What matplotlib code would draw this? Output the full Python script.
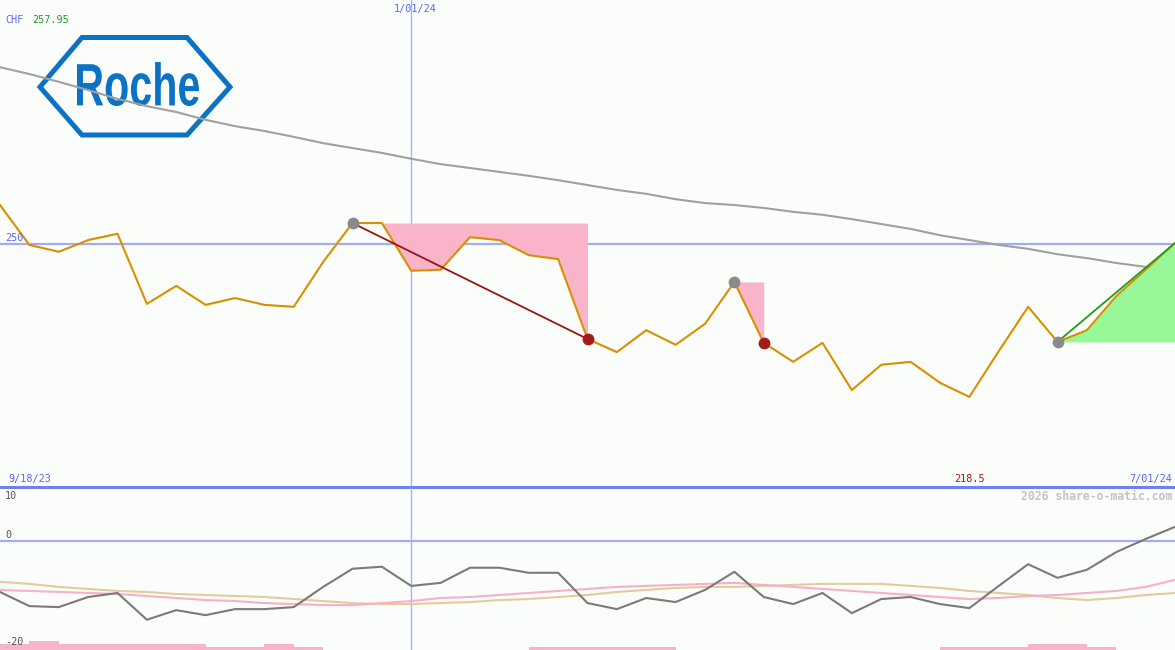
import numpy as np
import matplotlib
matplotlib.use("Agg")
import matplotlib.pyplot as plt
from matplotlib.patches import Polygon, PathPatch
from matplotlib.textpath import TextPath
from matplotlib.transforms import Affine2D
from matplotlib.font_manager import FontProperties

# weekly closes in CHF, 9/18/23 .. 7/01/24
price = [257.9, 249.7, 248.3, 250.7, 252.0, 237.6, 241.3, 237.4, 238.8, 237.4,
         237.0, 246.2, 254.2, 254.2, 244.4, 244.6, 251.3, 250.7, 247.6, 246.8,
         230.4, 227.7, 232.2, 229.2, 233.5, 242.1, 229.6, 225.7, 229.6, 219.9,
         225.1, 225.7, 221.4, 218.5, 227.9, 237.0, 229.8, 232.2, 239.2, 244.6,
         250.1]

# long moving average
ma_long = [286.2, 284.8, 283.2, 281.5, 279.7, 278.2, 277.0, 275.4, 274.1, 273.1,
           271.9, 270.6, 269.6, 268.6, 267.4, 266.3, 265.5, 264.7, 263.9, 263.0,
           262.0, 261.0, 260.2, 259.1, 258.3, 257.9, 257.3, 256.5, 255.9, 255.0,
           254.0, 253.0, 251.7, 250.7, 249.7, 248.9, 247.8, 247.0, 246.0, 245.2,
           244.6]

# lower panel indicator lines
momentum = [-10.1, -12.9, -13.1, -11.1, -10.3, -15.6, -13.7, -14.7, -13.5, -13.5,
            -13.1, -9.1, -5.5, -5.1, -8.9, -8.3, -5.3, -5.3, -6.3, -6.3,
            -12.3, -13.5, -11.3, -12.1, -9.7, -6.1, -11.1, -12.5, -10.3, -14.3,
            -11.5, -11.1, -12.5, -13.3, -8.9, -4.6, -7.3, -5.7, -2.2, 0.4,
            2.8]
signal_tan = [-8.1, -8.5, -9.1, -9.5, -9.9, -10.1, -10.5, -10.7, -10.9, -11.1,
              -11.5, -11.9, -12.3, -12.5, -12.5, -12.3, -12.1, -11.7, -11.5, -11.1,
              -10.7, -10.1, -9.7, -9.3, -9.1, -9.1, -8.9, -8.7, -8.5, -8.5,
              -8.5, -8.9, -9.3, -9.9, -10.3, -10.7, -11.3, -11.7, -11.3, -10.7,
              -10.3]
signal_pink = [-9.7, -9.9, -10.1, -10.3, -10.5, -10.9, -11.3, -11.7, -11.9, -12.3,
               -12.5, -12.7, -12.7, -12.3, -11.9, -11.3, -11.1, -10.7, -10.3, -9.9,
               -9.5, -9.1, -8.9, -8.7, -8.5, -8.3, -8.7, -9.1, -9.5, -9.9,
               -10.3, -10.7, -11.1, -11.5, -11.3, -10.9, -10.7, -10.3, -9.9, -9.1,
               -7.7]
bar_levels = [2, 3, 2, 2, 2, 2, 2, 1, 1, 2, 1, 0, 0, 0, 0, 0, 0, 0, 1, 1,
              1, 1, 1, 0, 0, 0, 0, 0, 0, 0, 0, 0, 1, 1, 1, 2, 2, 1, 0, 0, 0]

# drawdowns (peak, trough) and the gain leg (start, end), as week indexes
drawdowns = [(12, 20), (25, 26)]
gain = (36, 40)
year_start = 14
level_line = 250

W, H = 1175, 650
MAIN_H = 487
BG = "#fbfdfb"
BLUE_TXT = "#5a66ee"
ROCHE = "#0b72c4"
MONO = "DejaVu Sans Mono"

x = np.arange(len(price))
price = np.array(price)

fig = plt.figure(figsize=(W / 100, H / 100), dpi=100, facecolor=BG)
ax = fig.add_axes([0, 1 - MAIN_H / H, 1, MAIN_H / H])
ax2 = fig.add_axes([0, 0, 1, (H - MAIN_H - 1) / H])
for a in (ax, ax2):
    a.set_facecolor(BG)
    a.set_xlim(0, len(price) - 1)
    a.axis("off")
ax.set_ylim(200, 300)
ax2.set_ylim(-21.6, 10.5)


def pax(px, py):
    # pixel position -> main axes fraction
    return px / W, 1 - py / MAIN_H


# Roche logo: hexagon outline plus condensed lettering
hexagon = [pax(40, 87), pax(82, 37.5), pax(187, 37.5), pax(230, 87),
           pax(187, 135), pax(82, 135)]
ax.add_patch(Polygon(hexagon, closed=True, fill=False, edgecolor=ROCHE,
                     lw=3.6, transform=ax.transAxes, zorder=1, joinstyle="miter"))
tp = TextPath((0, 0), "Roche", size=100,
              prop=FontProperties(family="Liberation Sans", weight="bold"))
ext = tp.get_extents()
lx0, lx1, ly0, ly1 = 77, 199, 62, 106
tr = (Affine2D().translate(-ext.x0, -ext.y0)
      .scale((lx1 - lx0) / W / ext.width, (ly1 - ly0) / MAIN_H / ext.height)
      .translate(lx0 / W, 1 - ly1 / MAIN_H) + ax.transAxes)
ax.add_patch(PathPatch(tp, transform=tr, facecolor=ROCHE, lw=0, zorder=1))

# reference lines
ax.axhline(level_line, color="#a3acf2", lw=1.6, zorder=2)
ax.axhline(200, color="#7080ee", lw=2.2, zorder=5, clip_on=False)
ax.axvline(year_start, color="#a8b0f6", lw=1.0, zorder=2)
ax2.axvline(year_start, color="#a8b0f6", lw=1.0, zorder=2)
ax2.axhline(0, color="#a3acf2", lw=1.6, zorder=2)

# moving average
ax.plot(x, ma_long, color="#a0a0a0", lw=1.5, zorder=2)

# drawdown areas
for p, t in drawdowns:
    seg = slice(p, t + 1)
    ax.fill_between(x[seg], price[seg], price[p], color="#f9b4ca", lw=0, zorder=3)

# gain area
g0, g1 = gain
ax.fill_between(x[g0:g1 + 1], price[g0], price[g0:g1 + 1], color="#98f898",
                lw=0, zorder=3)

ax.plot(x, price, color="#d99000", lw=1.5, zorder=4)

p, t = drawdowns[0]
ax.plot([p, t], [price[p], price[t]], color="#9a1414", lw=1.3, zorder=5)
ax.plot([g0, g1], [price[g0], price[g1]], color="#1f9a1f", lw=1.3, zorder=5)

for p, t in drawdowns:
    ax.plot(p, price[p], "o", ms=8.5, color="#8a8a8a", mec="none", zorder=6)
    ax.plot(t, price[t], "o", ms=8.5, color="#a51a1a", mec="none", zorder=6)
ax.plot(g0, price[g0], "o", ms=8.5, color="#8a8a8a", mec="none", zorder=6)

# lower panel
bx = ax2.twinx()
bx.set_ylim(0, 54)
bx.axis("off")
bx.bar(x, bar_levels, width=1, align="edge", color="#f9b4ca", lw=0, zorder=1)
ax2.plot(x, signal_tan, color="#e2cc9a", lw=1.5, zorder=3)
ax2.plot(x, signal_pink, color="#f7b0c8", lw=1.5, zorder=3)
ax2.plot(x, momentum, color="#7a7a7a", lw=1.5, zorder=4)
ax2.set_zorder(bx.get_zorder() + 1)
ax2.patch.set_visible(False)


def ftext(px, py, s, color, ha="left", **kw):
    fig.text(px / W, 1 - py / H, s, color=color, ha=ha, va="center",
             family=MONO, fontsize=kw.pop("fontsize", 7.3), **kw)


ftext(5, 20, "CHF", BLUE_TXT)
ftext(32, 20, "257.95", "#22a022")
ftext(415, 9, "1/01/24", BLUE_TXT, ha="center")
ftext(5, 238, f"{level_line}", BLUE_TXT)
ftext(8, 479, "9/18/23", BLUE_TXT)
ftext(1172, 479, "7/01/24", BLUE_TXT, ha="right")
low = int(np.argmin(price))
ftext(low * W / (len(price) - 1), 479, f"{price[low]:.1f}", "#a01818", ha="center")
ftext(1172, 496, "2026 share-o-matic.com", "#c4c4c4", ha="right",
      fontsize=8.3, weight="bold")
ftext(5, 496, "10", "#555555")
ftext(5, 535, "0", "#555555")
ftext(5, 642, "-20", "#555555")

fig.savefig("out.png", dpi=100, facecolor=BG)
